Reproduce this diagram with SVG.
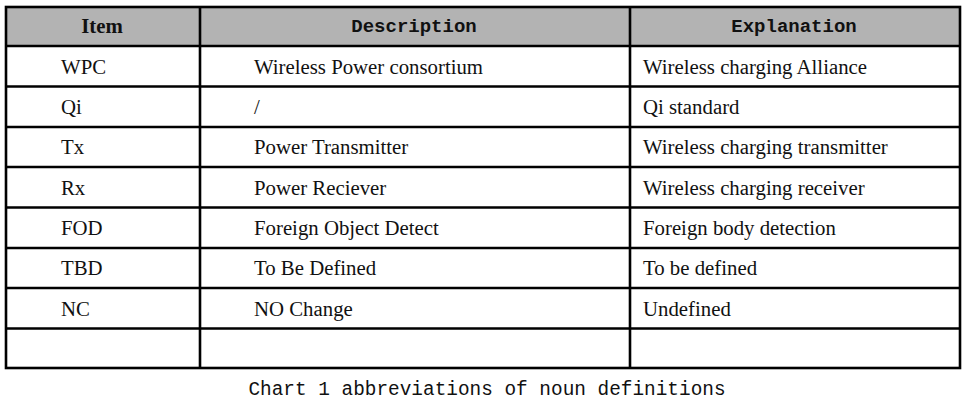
<svg xmlns="http://www.w3.org/2000/svg" width="964" height="414" viewBox="0 0 964 414">
<style>
.g{stroke:#000;stroke-width:2.6;fill:none}
.t{font-family:"Liberation Serif",serif;font-size:20.8px;fill:#111}
.h{font-family:"Liberation Mono",monospace;font-size:19px;font-weight:bold;fill:#111;text-anchor:middle}
.c{font-family:"Liberation Mono",monospace;font-size:19.4px;fill:#111;text-anchor:middle}
</style>
<rect width="964" height="414" fill="#fff"/>
<rect x="6" y="7" width="954" height="39" fill="#b3b3b3"/>
<g id="grid" class="g">
<rect x="6" y="7" width="954" height="361"/>
<path d="M200 7V368M630 7V368M6 46H960M6 86.5H960M6 127H960M6 167H960M6 207.5H960M6 248H960M6 288H960M6 328.5H960"/>
</g>
<g id="header">
<text x="102" y="33" class="t" font-weight="bold" text-anchor="middle" font-size="20">Item</text>
<text x="414" y="32" class="h">Description</text>
<text x="794" y="32" class="h">Explanation</text>
</g>
<g id="rows" class="t">
<text x="61" y="74">WPC</text><text x="254" y="74">Wireless Power consortium</text><text x="643" y="74">Wireless charging Alliance</text>
<text x="61" y="114">Qi</text><text x="254" y="114">/</text><text x="643" y="114">Qi standard</text>
<text x="61" y="154">Tx</text><text x="254" y="154">Power Transmitter</text><text x="643" y="154">Wireless charging transmitter</text>
<text x="61" y="195">Rx</text><text x="254" y="195">Power Reciever</text><text x="643" y="195">Wireless charging receiver</text>
<text x="61" y="235">FOD</text><text x="254" y="235">Foreign Object Detect</text><text x="643" y="235">Foreign body detection</text>
<text x="61" y="275">TBD</text><text x="254" y="275">To Be Defined</text><text x="643" y="275">To be defined</text>
<text x="61" y="316">NC</text><text x="254" y="316">NO Change</text><text x="643" y="316">Undefined</text>
</g>
<text id="caption" x="487" y="395" class="c">Chart 1 abbreviations of noun definitions</text>
</svg>
